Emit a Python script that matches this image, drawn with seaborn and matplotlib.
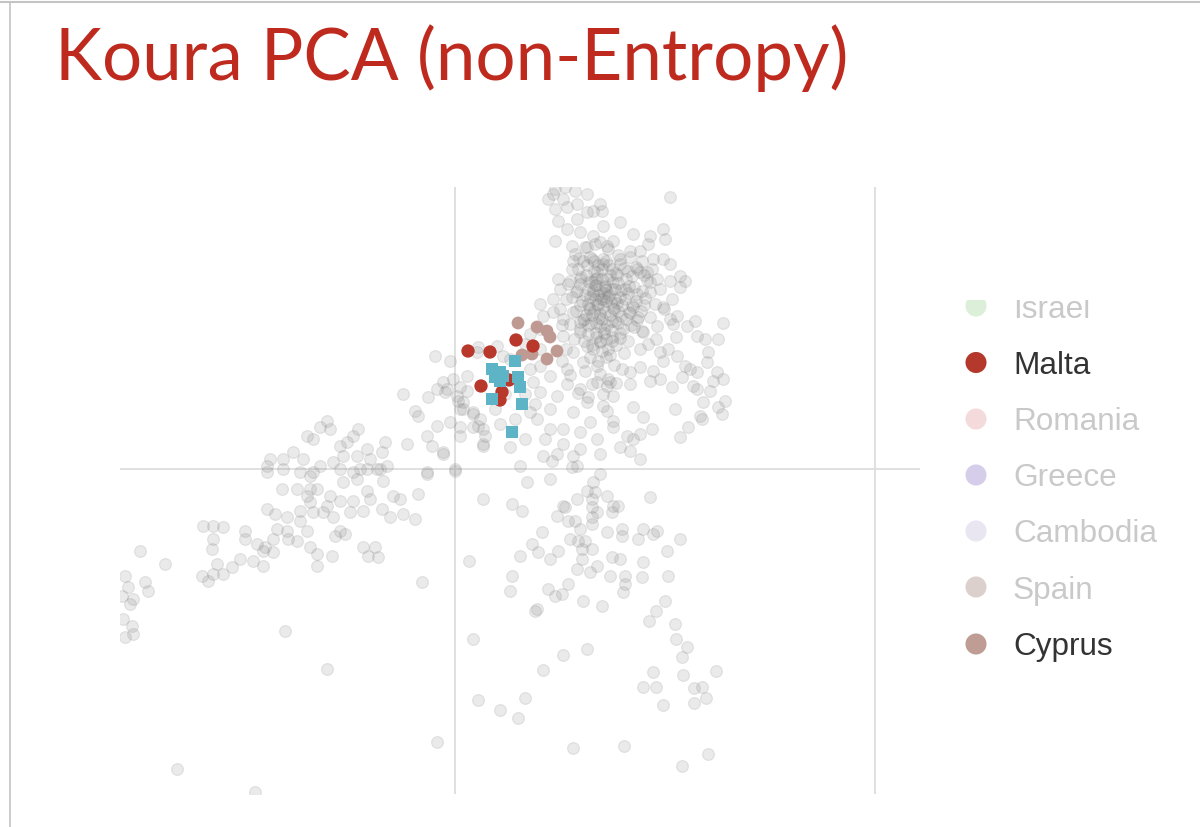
import numpy as np
import pandas as pd
import matplotlib
matplotlib.use("Agg")
import matplotlib.pyplot as plt
import seaborn as sns

# ---------------- data (PC scores x 1000) ----------------
gray_top = [(98,275),(108,270),(132,275),(100,260),(112,262),(122,265),(145,265),(103,248),(122,250),
    (132,257),(138,258),(148,243),(112,240),(125,237),(138,233),(100,228),(117,223),(132,222),(145,227),
    (118,208),(137,210),(148,205),(142,197),(152,190),(103,190),(115,188),(125,190),(137,187),(105,180),
    (122,178),(98,170),(85,165),(138,175),(88,153),(98,157),(108,150),(118,157),(125,147),
    (100,280),(110,282),(120,278),(93,270)]
gray_upper_right = [(215,272),(147,258),(165,247),(178,235),(195,233),(208,240),(210,230),(158,228),
    (152,223),(193,225),(175,218),(185,218),(148,210),(165,210),(198,210),(208,210),(215,205),(225,193),
    (230,188),(215,188),(225,182),(202,190),(192,197),(182,200),(195,177),(217,170),(208,162),(222,153),
    (240,148),(232,143),(268,146)]
gray_right = [(263,130),(250,130),(242,133),(253,117),(252,107),(262,97),(268,90),(258,88),(235,100),
    (242,97),(230,103),(238,83),(242,80),(227,92),(217,82),(205,90),(195,88),(208,108),(198,98),(185,102),
    (175,97),(175,85),(155,87),(158,73),(148,75),(178,62),(188,52),(220,60),(248,67),(255,78),(270,68),
    (263,62),(267,55),(245,53),(247,50),(233,42),(225,32),(197,40),(185,35),(172,33),(178,30),(158,48),
    (158,42),(152,58),(175,18),(185,10),(188,137),(202,143),(218,145),(205,117),(222,113)]
gray_center = [(-20,113),(-12,87),(-8,80),(2,73),(12,78),(8,67),(5,60),(18,57),(25,50),(28,40),(18,42),
    (-5,47),(-12,17),(28,23),(65,3),(88,13),(102,15),(118,13),(122,3),(95,40),(108,40),(125,37),(135,47),
    (142,30),(95,60),(75,57),(82,50),(102,73),(85,77),(78,87),(112,85),(125,80),(142,87),(152,83),(132,67),
    (148,63),(118,57),(75,100),(85,103),(95,93),(112,100),(128,107),(142,103),(118,117),(132,123),(145,127),
    (125,137),(108,133),(42,123),(48,113),(22,117),
    (55,110),(70,125),(85,120),(50,75),(40,60),(60,50),(70,75),(80,65),(45,45),(90,30),(70,30),(55,22),
    (108,25),(125,20),(145,15),(165,22),(85,140),(75,135)]
gray_left_mid = [(-5,108),(23,122),(-52,75),(-27,72),(-18,80),(-10,77),(-2,90),(5,82),(12,93),(-40,58),
    (-37,53),(-18,43),(-28,33),(3,68),(8,60),(5,42),(5,33),(23,43),(28,25),(30,33),(18,55),(-48,25),
    (-23,23),(-12,15),(-28,-3),(0,-2),
    (-128,48),(-135,42),(-125,40),(-148,33),(-142,30),(-115,23),(-102,33),(-97,40),(-108,27),(-112,13),
    (-98,13),(-88,20),(-85,10),(-70,27),(-73,17),(-68,3),(-78,0),(-95,0),(-122,7),(-135,3),(-152,10),
    (-162,17),(-172,10),(-185,10),(-188,3),(-188,-3),(-172,0),(-155,-3),(-142,-3),(-115,0)]
gray_left_low = [(-145,-7),(-102,-3),(-88,0),(-75,0),(-72,-12),(-28,-5),(-173,-20),(-158,-20),(-145,-20),
    (-148,-27),(-138,-20),(-125,-27),(-112,-13),(-98,-10),(-88,-22),(-85,-30),(-62,-27),(-55,-30),(-37,-25),
    (-115,-32),(-102,-32),(-92,-42),(-105,-43),(-73,-40),(-65,-48),(-52,-45),(-40,-50),(-188,-40),(-180,-45),
    (-168,-48),(-155,-42),(-155,-52),(-142,-43),(-132,-43),(-122,-48),(-145,-33),(-128,-37),(-115,-62),
    (-120,-67),(-110,-65),(-148,-62),(-158,-72),(-168,-62),(-178,-60),(-182,-70),(-167,-70),(-198,-75),
    (-190,-78),(-182,-83),(-192,-82),(-202,-92),(-192,-97),(-210,-62),(-210,-70),(-215,-90),(-223,-98),
    (-238,-95),(-232,-105),(-242,-105),(-247,-112),(-253,-107),(-252,-57),(-242,-57),(-232,-58),(-242,-70),
    (-243,-80),(-145,-78),(-138,-85),(-138,-97),(-123,-87),(-92,-78),(-80,-78),(-87,-87),(-77,-88),
    (-33,-113),(-290,-95),(-315,-82),(-330,-107),(-327,-118),(-310,-113),(-307,-122),(-322,-130),
    (-325,-135),(-333,-127),(-332,-150),(-323,-157),(-322,-165),(-330,-168),(-170,-162),(-128,-200),
    (-18,-273),(-278,-300),(-200,-323)]
gray_lower_right = [(0,0),(97,8),(117,2),(145,-5),(138,-13),(132,-22),(140,-23),(152,-27),(158,-37),
    (163,-37),(157,-43),(137,-30),(137,-38),(142,-43),(137,-48),(137,-55),(122,-30),(108,-37),(110,-38),
    (102,-47),(113,-52),(120,-52),(125,-60),(115,-70),(123,-72),(130,-72),(127,-80),(137,-80),(127,-90),
    (122,-100),(135,-103),(142,-97),(152,-63),(167,-60),(167,-67),(183,-70),(188,-60),(198,-65),(202,-62),
    (225,-70),(195,-28),(95,-10),(72,-13),(28,-30),(57,-35),(67,-42),(87,-63),(77,-75),(83,-83),(65,-87),
    (103,-82),(95,-90),(57,-107),(55,-122),(93,-120),(100,-127),(107,-125),(113,-115),(128,-132),(147,-137),
    (80,-142),(82,-140),(157,-88),(165,-90),(155,-107),(170,-107),(170,-115),(168,-123),(187,-108),
    (188,-93),(212,-82),(213,-107),(210,-132),(201,-142),(194,-152),(220,-155),(221,-170),(232,-178),
    (227,-188),(228,-206),(198,-203),(188,-218),(201,-218),(208,-236),(239,-219),(247,-218),(251,-229),
    (239,-234),(261,-202),(18,-170),(14,-92),(132,-180),(108,-186),(88,-201),(70,-229),(45,-241),
    (23,-231),(63,-249),(118,-279),(169,-277),(253,-285),(227,-297)]
gray_core = [(120,215),(128,208),(135,212),(143,204),(151,208),(157,200),(165,205),(173,198),(181,202),
    (189,194),(195,187),(123,200),(131,194),(139,198),(147,190),(155,194),(163,186),(171,190),(179,182),
    (187,178),(125,185),(133,180),(141,184),(149,176),(157,180),(165,172),(173,176),(181,168),(189,164),
    (117,172),(127,168),(135,172),(143,164),(151,168),(159,160),(167,164),(175,156),(183,152),(121,158),
    (131,154),(139,158),(147,150),(155,154),(163,146),(171,150),(179,142),(187,138),(115,145),(125,140),
    (133,144),(141,136),(149,140),(157,132),(165,136),(173,128),(129,128),(137,124),(145,128),(153,120),
    (161,124),(169,116),(135,112),(143,108),(151,112),(159,104),(167,100),(145,95),(153,90),(161,86),
    (130,98),(137,85),(145,178),(153,172),(148,162),(140,170),(160,170),(135,160),(157,148),(145,155),
    (150,182),(140,190),(162,194),(170,180),(177,164),(133,165),(141,146),(151,130),(129,150),(119,130),
    (111,120),(107,108),(115,94),(123,76),(133,72),(105,160),(107,144),(111,170),(113,185),(117,200),
    (130,222),(140,225),(153,220),(163,214),(175,212),(187,208),(197,200),(205,180),(200,165),(195,152),
    (193,125),(185,120),(201,130),(209,160),(215,150),(221,132),(213,120)]
gray_core_inner = [(124,211),(132,204),(139,208),(147,200),(154,204),(161,196),(169,201),(177,193),
    (185,197),(192,189),(126,192),(134,187),(142,191),(150,183),(158,187),(166,179),(174,183),(182,175),
    (190,171),(121,177),(130,174),(138,178),(146,170),(154,174),(162,166),(170,170),(178,162),(186,158),
    (125,164),(134,161),(142,165),(150,157),(158,161),(166,153),(174,157),(182,149),(128,149),(136,146),
    (144,151),(152,144),(160,148),(168,140),(176,144),(133,135),(141,132),(149,136),(157,128),(165,131),
    (138,120),(147,118),(155,114),(143,174),(151,179),(156,167),(148,170),(137,154),(163,158),(145,143),
    (156,139),(140,184),(160,180)]

malta = [(13,118),(35,117),(61,129),(78,123),(26,83),(54,89),(47,77),(45,69)]
cyprus = [(63,146),(82,142),(92,138),(95,132),(102,118),(92,110),(77,115),(67,114)]
koura = [(37,100),(45,97),(45,88),(40,92),(60,108),(63,92),(65,82),(37,70),(67,65),(57,37),(48,93)]

legend_labels = ["Israel", "Malta", "Romania", "Greece", "Cambodia", "Spain", "Cyprus"]
legend_colors = ["#dcefd8", "#b5382c", "#f4dada", "#d6cdea", "#e9e5f1", "#dbd0cc", "#bf9c94"]
legend_active = [False, True, False, False, False, False, True]

title_text = "Koura PCA (non-Entropy)"


def to_df(points):
    arr = np.array(points, dtype=float) / 1000.0
    return pd.DataFrame({"PC1": arr[:, 0], "PC2": arr[:, 1]})


gray_df = to_df(gray_top + gray_upper_right + gray_right + gray_center + gray_left_mid
                + gray_left_low + gray_lower_right + gray_core + gray_core_inner)
malta_df = to_df(malta)
cyprus_df = to_df(cyprus)
koura_df = to_df(koura)

# ---------------- figure ----------------
sns.set_theme(style="white")
plt.rcParams["font.family"] = ["Liberation Sans", "DejaVu Sans"]

W, H = 1200, 828
fig = plt.figure(figsize=(12, 8.28), dpi=100)
fig.patch.set_facecolor("white")

ax = fig.add_axes([120 / W, 1 - 795 / H, 800 / W, 607 / H])
ax.set_xlim(-0.335, 0.465)
ax.set_ylim(-0.325, 0.282)
for s in ax.spines.values():
    s.set_visible(False)
ax.set_xticks([])
ax.set_yticks([])

line_c = "#dddddd"
ax.axvline(0, color=line_c, lw=1.3, zorder=0)
ax.axvline(0.42, color=line_c, lw=1.3, zorder=0)
ax.axhline(0, color=line_c, lw=1.3, zorder=0)

sns.scatterplot(data=gray_df, x="PC1", y="PC2", ax=ax, s=72, marker="o", legend=False, zorder=2)
coll = ax.collections[-1]
coll.set_facecolor((0.50, 0.50, 0.50, 0.16))
coll.set_edgecolor((0.50, 0.50, 0.50, 0.17))
coll.set_linewidth(0.9)

sns.scatterplot(data=cyprus_df, x="PC1", y="PC2", ax=ax, s=85, marker="o", color="#bf9a92",
                edgecolor="none", legend=False, zorder=3)
sns.scatterplot(data=malta_df, x="PC1", y="PC2", ax=ax, s=92, marker="o", color="#b8382c",
                edgecolor="none", legend=False, zorder=4)
sns.scatterplot(data=koura_df, x="PC1", y="PC2", ax=ax, s=68, marker="s", color="#5db4c6",
                edgecolor="none", legend=False, zorder=5)
ax.set_xlabel("")
ax.set_ylabel("")

# ---------------- legend (clipped panel) ----------------
top_px, bot_px = 301, 672
lax = fig.add_axes([945 / W, 1 - bot_px / H, 255 / W, (bot_px - top_px) / H])
lax.set_xlim(0, 1)
lax.set_ylim(0, 1)
lax.axis("off")
centers_px = [307, 363.5, 420, 476, 532, 588, 645]
for lab, col, act, cy in zip(legend_labels, legend_colors, legend_active, centers_px):
    yf = 1 - (cy - top_px) / (bot_px - top_px)
    lax.scatter([(976 - 945) / 255], [yf], s=230, color=col, edgecolors="none", clip_on=True)
    t = lax.text((1013 - 945) / 255, yf - 10.5 / (bot_px - top_px), lab, fontsize=22.7,
                 color="#333333" if act else "#c9c9c9", va="baseline", ha="left",
                 family=["Liberation Sans", "DejaVu Sans"])
    t.set_clip_on(True)

# ---------------- title ----------------
fig.text(55 / W, 1 - 80 / H, title_text, fontsize=51, color="#bf2a1f", va="baseline", ha="left",
         family=["Lato", "DejaVu Sans"])

# ---------------- screenshot frame ----------------
fig.add_artist(plt.Line2D([0, 1], [1 - 3 / H, 1 - 3 / H], color="#c4c4c4", lw=1.5,
                          transform=fig.transFigure))
fig.add_artist(plt.Line2D([10 / W, 10 / W], [0, 1 - 3 / H], color="#c4c4c4", lw=1.2,
                          transform=fig.transFigure))

fig.savefig("out.png", dpi=100)
